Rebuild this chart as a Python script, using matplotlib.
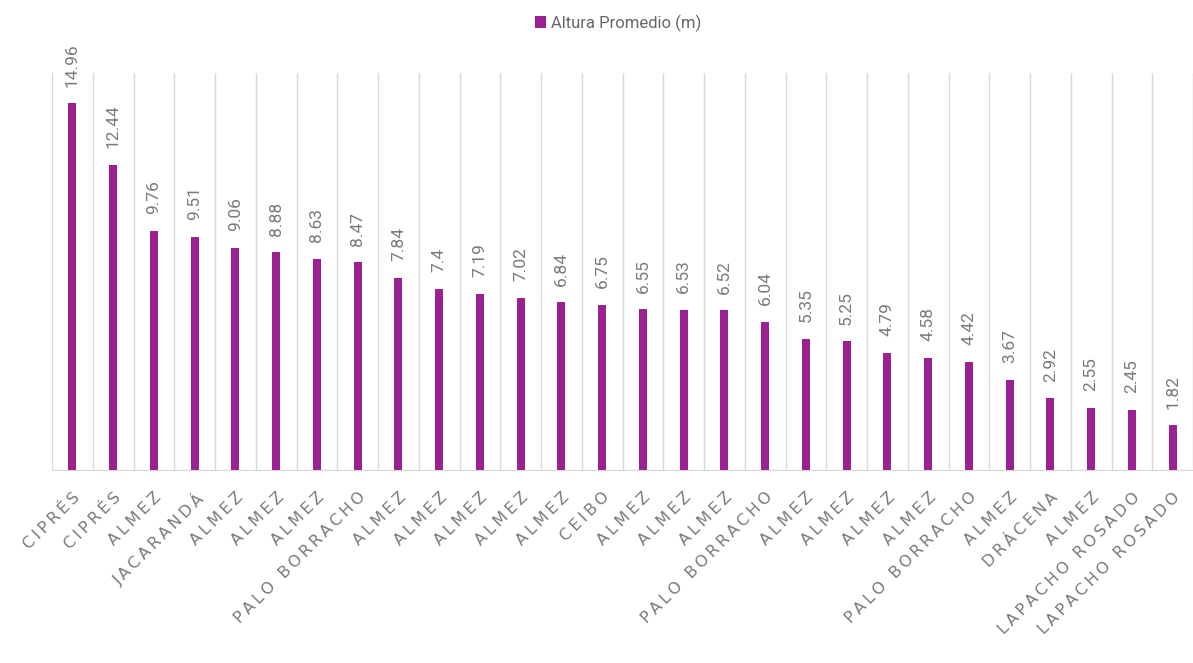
import matplotlib
matplotlib.use("Agg")
import matplotlib.pyplot as plt
from matplotlib.font_manager import FontProperties
import numpy as np

categories = ["CIPRÉS", "CIPRÉS", "ALMEZ", "JACARANDÁ", "ALMEZ", "ALMEZ", "ALMEZ",
              "PALO BORRACHO", "ALMEZ", "ALMEZ", "ALMEZ", "ALMEZ", "ALMEZ", "CEIBO",
              "ALMEZ", "ALMEZ", "ALMEZ", "PALO BORRACHO", "ALMEZ", "ALMEZ", "ALMEZ",
              "ALMEZ", "PALO BORRACHO", "ALMEZ", "DRÁCENA", "ALMEZ", "LAPACHO ROSADO",
              "LAPACHO ROSADO"]
heights = [14.96, 12.44, 9.76, 9.51, 9.06, 8.88, 8.63, 8.47, 7.84, 7.4, 7.19, 7.02,
           6.84, 6.75, 6.55, 6.53, 6.52, 6.04, 5.35, 5.25, 4.79, 4.58, 4.42, 3.67,
           2.92, 2.55, 2.45, 1.82]
series_name = "Altura Promedio (m)"

BAR_COLOR = "#9B2190"
TEXT_COLOR = "#7A7A7A"
GRID_COLOR = "#D9D9D9"


def spaced(s):
    # widen letter spacing like the source chart
    return "\u2009".join(s)


fig = plt.figure(figsize=(11.93, 6.63), dpi=100)
ax = fig.add_axes([0.0436, 0.291, 0.9564, 0.599])

x = np.arange(len(categories))
bars = ax.bar(x, heights, width=0.2, color=BAR_COLOR, label=series_name, zorder=3)

ax.set_xlim(-0.5, len(categories) - 0.5)
ax.set_ylim(0, 16.2)

for b in np.arange(-0.5, len(categories) + 0.5, 1):
    ax.axvline(b, color=GRID_COLOR, lw=1.0, zorder=1)

for s in ["top", "right", "left"]:
    ax.spines[s].set_visible(False)
ax.spines["bottom"].set_color(GRID_COLOR)
ax.set_yticks([])
ax.set_xticks(x)
tick_fp = FontProperties(family="DejaVu Sans", size=11.5)
ax.set_xticklabels([spaced(c) for c in categories], rotation=45, ha="right",
                   rotation_mode="anchor", fontproperties=tick_fp, color=TEXT_COLOR)
ax.tick_params(axis="x", length=0, pad=14)

lab_fp = FontProperties(family="Roboto", size=12.5)
for xi, h in zip(x, heights):
    ax.annotate(f"{h:g}", (xi, h), xytext=(0, 12), textcoords="offset points",
                rotation=90, ha="center", va="bottom", fontproperties=lab_fp,
                color=TEXT_COLOR)

leg = fig.legend(handles=[bars], labels=[series_name], loc="center",
                 bbox_to_anchor=(0.518, 0.965), frameon=False,
                 handlelength=0.7, handleheight=0.7, handletextpad=0.3,
                 prop=FontProperties(family="Roboto", size=12))
for t in leg.get_texts():
    t.set_color("#666666")

fig.savefig("out.png", dpi=100)
